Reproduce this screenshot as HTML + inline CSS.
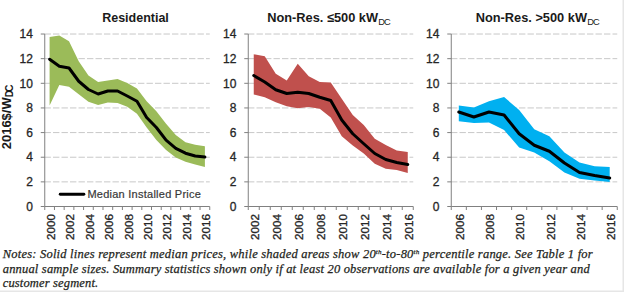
<!DOCTYPE html><html><head><meta charset="utf-8"><style>html,body{margin:0;padding:0;background:#fff;width:624px;height:292px;overflow:hidden}svg{display:block}.s{font-family:"Liberation Sans",sans-serif}.n{font-family:"Liberation Serif",serif;font-style:italic}</style></head><body>
<svg width="624" height="292" viewBox="0 0 624 292">
<rect x="0" y="0" width="624" height="292" fill="#fff"/>
<line x1="44.50" y1="181.86" x2="209.75" y2="181.86" stroke="#c8c8c8" stroke-width="1" stroke-dasharray="6.4 2.1"/>
<line x1="44.50" y1="157.22" x2="209.75" y2="157.22" stroke="#c8c8c8" stroke-width="1" stroke-dasharray="6.4 2.1"/>
<line x1="44.50" y1="132.58" x2="209.75" y2="132.58" stroke="#c8c8c8" stroke-width="1" stroke-dasharray="6.4 2.1"/>
<line x1="44.50" y1="107.94" x2="209.75" y2="107.94" stroke="#c8c8c8" stroke-width="1" stroke-dasharray="6.4 2.1"/>
<line x1="44.50" y1="83.30" x2="209.75" y2="83.30" stroke="#c8c8c8" stroke-width="1" stroke-dasharray="6.4 2.1"/>
<line x1="44.50" y1="58.66" x2="209.75" y2="58.66" stroke="#c8c8c8" stroke-width="1" stroke-dasharray="6.4 2.1"/>
<line x1="44.50" y1="34.02" x2="209.75" y2="34.02" stroke="#c8c8c8" stroke-width="1" stroke-dasharray="6.4 2.1"/>
<polygon fill="#9bbb59" points="49.60,37.00 59.31,35.50 69.01,41.25 78.72,61.25 88.43,75.50 98.13,82.00 107.84,80.50 117.54,79.00 127.25,83.00 136.96,88.50 146.66,101.25 156.37,111.25 166.07,123.75 175.78,135.00 185.49,142.25 195.19,144.75 204.90,146.25 204.90,167.00 195.19,164.50 185.49,161.75 175.78,157.50 166.07,150.00 156.37,140.00 146.66,127.50 136.96,113.75 127.25,106.75 117.54,103.00 107.84,102.50 98.13,105.00 88.43,101.75 78.72,94.25 69.01,86.75 59.31,85.00 49.60,105.50"/>
<polyline fill="none" stroke="#000" stroke-width="3.0" stroke-linejoin="round" stroke-linecap="round" points="49.60,59.25 59.31,66.25 69.01,68.00 78.72,81.25 88.43,89.50 98.13,94.00 107.84,91.00 117.54,91.00 127.25,96.00 136.96,101.25 146.66,117.50 156.37,127.50 166.07,140.20 175.78,148.30 185.49,153.20 195.19,156.00 204.90,157.00"/>
<line x1="44.75" y1="34.02" x2="44.75" y2="206.50" stroke="#808080" stroke-width="1"/>
<line x1="44.75" y1="206.50" x2="209.75" y2="206.50" stroke="#808080" stroke-width="1"/>
<line x1="40.75" y1="206.50" x2="44.75" y2="206.50" stroke="#808080" stroke-width="1"/>
<text class="s" x="32.95" y="210.70" font-size="12" text-anchor="end" fill="#262626" stroke="#262626" stroke-width="0.3">0</text>
<line x1="40.75" y1="181.86" x2="44.75" y2="181.86" stroke="#808080" stroke-width="1"/>
<text class="s" x="32.95" y="186.06" font-size="12" text-anchor="end" fill="#262626" stroke="#262626" stroke-width="0.3">2</text>
<line x1="40.75" y1="157.22" x2="44.75" y2="157.22" stroke="#808080" stroke-width="1"/>
<text class="s" x="32.95" y="161.42" font-size="12" text-anchor="end" fill="#262626" stroke="#262626" stroke-width="0.3">4</text>
<line x1="40.75" y1="132.58" x2="44.75" y2="132.58" stroke="#808080" stroke-width="1"/>
<text class="s" x="32.95" y="136.78" font-size="12" text-anchor="end" fill="#262626" stroke="#262626" stroke-width="0.3">6</text>
<line x1="40.75" y1="107.94" x2="44.75" y2="107.94" stroke="#808080" stroke-width="1"/>
<text class="s" x="32.95" y="112.14" font-size="12" text-anchor="end" fill="#262626" stroke="#262626" stroke-width="0.3">8</text>
<line x1="40.75" y1="83.30" x2="44.75" y2="83.30" stroke="#808080" stroke-width="1"/>
<text class="s" x="32.95" y="87.50" font-size="12" text-anchor="end" fill="#262626" stroke="#262626" stroke-width="0.3">10</text>
<line x1="40.75" y1="58.66" x2="44.75" y2="58.66" stroke="#808080" stroke-width="1"/>
<text class="s" x="32.95" y="62.86" font-size="12" text-anchor="end" fill="#262626" stroke="#262626" stroke-width="0.3">12</text>
<line x1="40.75" y1="34.02" x2="44.75" y2="34.02" stroke="#808080" stroke-width="1"/>
<text class="s" x="32.95" y="38.22" font-size="12" text-anchor="end" fill="#262626" stroke="#262626" stroke-width="0.3">14</text>
<line x1="44.75" y1="206.50" x2="44.75" y2="210.00" stroke="#808080" stroke-width="1"/>
<line x1="54.46" y1="206.50" x2="54.46" y2="210.00" stroke="#808080" stroke-width="1"/>
<line x1="64.16" y1="206.50" x2="64.16" y2="210.00" stroke="#808080" stroke-width="1"/>
<line x1="73.87" y1="206.50" x2="73.87" y2="210.00" stroke="#808080" stroke-width="1"/>
<line x1="83.57" y1="206.50" x2="83.57" y2="210.00" stroke="#808080" stroke-width="1"/>
<line x1="93.28" y1="206.50" x2="93.28" y2="210.00" stroke="#808080" stroke-width="1"/>
<line x1="102.99" y1="206.50" x2="102.99" y2="210.00" stroke="#808080" stroke-width="1"/>
<line x1="112.69" y1="206.50" x2="112.69" y2="210.00" stroke="#808080" stroke-width="1"/>
<line x1="122.40" y1="206.50" x2="122.40" y2="210.00" stroke="#808080" stroke-width="1"/>
<line x1="132.10" y1="206.50" x2="132.10" y2="210.00" stroke="#808080" stroke-width="1"/>
<line x1="141.81" y1="206.50" x2="141.81" y2="210.00" stroke="#808080" stroke-width="1"/>
<line x1="151.51" y1="206.50" x2="151.51" y2="210.00" stroke="#808080" stroke-width="1"/>
<line x1="161.22" y1="206.50" x2="161.22" y2="210.00" stroke="#808080" stroke-width="1"/>
<line x1="170.93" y1="206.50" x2="170.93" y2="210.00" stroke="#808080" stroke-width="1"/>
<line x1="180.63" y1="206.50" x2="180.63" y2="210.00" stroke="#808080" stroke-width="1"/>
<line x1="190.34" y1="206.50" x2="190.34" y2="210.00" stroke="#808080" stroke-width="1"/>
<line x1="200.04" y1="206.50" x2="200.04" y2="210.00" stroke="#808080" stroke-width="1"/>
<line x1="209.75" y1="206.50" x2="209.75" y2="210.00" stroke="#808080" stroke-width="1"/>
<text class="s" transform="translate(54.90,240.00) rotate(-90)" font-size="11.7" fill="#262626" stroke="#262626" stroke-width="0.3">2000</text>
<text class="s" transform="translate(74.31,240.00) rotate(-90)" font-size="11.7" fill="#262626" stroke="#262626" stroke-width="0.3">2002</text>
<text class="s" transform="translate(93.73,240.00) rotate(-90)" font-size="11.7" fill="#262626" stroke="#262626" stroke-width="0.3">2004</text>
<text class="s" transform="translate(113.14,240.00) rotate(-90)" font-size="11.7" fill="#262626" stroke="#262626" stroke-width="0.3">2006</text>
<text class="s" transform="translate(132.55,240.00) rotate(-90)" font-size="11.7" fill="#262626" stroke="#262626" stroke-width="0.3">2008</text>
<text class="s" transform="translate(151.96,240.00) rotate(-90)" font-size="11.7" fill="#262626" stroke="#262626" stroke-width="0.3">2010</text>
<text class="s" transform="translate(171.37,240.00) rotate(-90)" font-size="11.7" fill="#262626" stroke="#262626" stroke-width="0.3">2012</text>
<text class="s" transform="translate(190.79,240.00) rotate(-90)" font-size="11.7" fill="#262626" stroke="#262626" stroke-width="0.3">2014</text>
<text class="s" transform="translate(210.20,240.00) rotate(-90)" font-size="11.7" fill="#262626" stroke="#262626" stroke-width="0.3">2016</text>
<text class="s" x="135.50" y="21.9" font-size="12.5" font-weight="bold" text-anchor="middle" fill="#1a1a1a">Residential</text>
<line x1="248.00" y1="181.86" x2="413.25" y2="181.86" stroke="#c8c8c8" stroke-width="1" stroke-dasharray="6.4 2.1"/>
<line x1="248.00" y1="157.22" x2="413.25" y2="157.22" stroke="#c8c8c8" stroke-width="1" stroke-dasharray="6.4 2.1"/>
<line x1="248.00" y1="132.58" x2="413.25" y2="132.58" stroke="#c8c8c8" stroke-width="1" stroke-dasharray="6.4 2.1"/>
<line x1="248.00" y1="107.94" x2="413.25" y2="107.94" stroke="#c8c8c8" stroke-width="1" stroke-dasharray="6.4 2.1"/>
<line x1="248.00" y1="83.30" x2="413.25" y2="83.30" stroke="#c8c8c8" stroke-width="1" stroke-dasharray="6.4 2.1"/>
<line x1="248.00" y1="58.66" x2="413.25" y2="58.66" stroke="#c8c8c8" stroke-width="1" stroke-dasharray="6.4 2.1"/>
<line x1="248.00" y1="34.02" x2="413.25" y2="34.02" stroke="#c8c8c8" stroke-width="1" stroke-dasharray="6.4 2.1"/>
<polygon fill="#c0504d" points="253.75,54.25 264.75,56.25 275.75,73.75 286.75,80.50 297.75,63.75 308.75,76.25 319.75,82.00 330.75,82.50 341.75,98.75 352.75,115.00 363.75,125.00 374.75,138.75 385.75,145.00 396.75,150.50 407.75,152.00 407.75,173.00 396.75,170.00 385.75,168.75 374.75,163.75 363.75,153.50 352.75,145.50 341.75,136.25 330.75,117.50 319.75,108.75 308.75,107.00 297.75,108.25 286.75,106.25 275.75,102.25 264.75,97.25 253.75,94.50"/>
<polyline fill="none" stroke="#000" stroke-width="3.0" stroke-linejoin="round" stroke-linecap="round" points="253.75,75.50 264.75,82.00 275.75,89.75 286.75,93.50 297.75,92.25 308.75,93.50 319.75,97.25 330.75,100.50 341.75,120.00 352.75,133.75 363.75,143.75 374.75,153.50 385.75,159.50 396.75,162.50 407.75,164.50"/>
<line x1="248.25" y1="34.02" x2="248.25" y2="206.50" stroke="#808080" stroke-width="1"/>
<line x1="248.25" y1="206.50" x2="413.25" y2="206.50" stroke="#808080" stroke-width="1"/>
<line x1="244.25" y1="206.50" x2="248.25" y2="206.50" stroke="#808080" stroke-width="1"/>
<text class="s" x="236.45" y="210.70" font-size="12" text-anchor="end" fill="#262626" stroke="#262626" stroke-width="0.3">0</text>
<line x1="244.25" y1="181.86" x2="248.25" y2="181.86" stroke="#808080" stroke-width="1"/>
<text class="s" x="236.45" y="186.06" font-size="12" text-anchor="end" fill="#262626" stroke="#262626" stroke-width="0.3">2</text>
<line x1="244.25" y1="157.22" x2="248.25" y2="157.22" stroke="#808080" stroke-width="1"/>
<text class="s" x="236.45" y="161.42" font-size="12" text-anchor="end" fill="#262626" stroke="#262626" stroke-width="0.3">4</text>
<line x1="244.25" y1="132.58" x2="248.25" y2="132.58" stroke="#808080" stroke-width="1"/>
<text class="s" x="236.45" y="136.78" font-size="12" text-anchor="end" fill="#262626" stroke="#262626" stroke-width="0.3">6</text>
<line x1="244.25" y1="107.94" x2="248.25" y2="107.94" stroke="#808080" stroke-width="1"/>
<text class="s" x="236.45" y="112.14" font-size="12" text-anchor="end" fill="#262626" stroke="#262626" stroke-width="0.3">8</text>
<line x1="244.25" y1="83.30" x2="248.25" y2="83.30" stroke="#808080" stroke-width="1"/>
<text class="s" x="236.45" y="87.50" font-size="12" text-anchor="end" fill="#262626" stroke="#262626" stroke-width="0.3">10</text>
<line x1="244.25" y1="58.66" x2="248.25" y2="58.66" stroke="#808080" stroke-width="1"/>
<text class="s" x="236.45" y="62.86" font-size="12" text-anchor="end" fill="#262626" stroke="#262626" stroke-width="0.3">12</text>
<line x1="244.25" y1="34.02" x2="248.25" y2="34.02" stroke="#808080" stroke-width="1"/>
<text class="s" x="236.45" y="38.22" font-size="12" text-anchor="end" fill="#262626" stroke="#262626" stroke-width="0.3">14</text>
<line x1="248.25" y1="206.50" x2="248.25" y2="210.00" stroke="#808080" stroke-width="1"/>
<line x1="259.25" y1="206.50" x2="259.25" y2="210.00" stroke="#808080" stroke-width="1"/>
<line x1="270.25" y1="206.50" x2="270.25" y2="210.00" stroke="#808080" stroke-width="1"/>
<line x1="281.25" y1="206.50" x2="281.25" y2="210.00" stroke="#808080" stroke-width="1"/>
<line x1="292.25" y1="206.50" x2="292.25" y2="210.00" stroke="#808080" stroke-width="1"/>
<line x1="303.25" y1="206.50" x2="303.25" y2="210.00" stroke="#808080" stroke-width="1"/>
<line x1="314.25" y1="206.50" x2="314.25" y2="210.00" stroke="#808080" stroke-width="1"/>
<line x1="325.25" y1="206.50" x2="325.25" y2="210.00" stroke="#808080" stroke-width="1"/>
<line x1="336.25" y1="206.50" x2="336.25" y2="210.00" stroke="#808080" stroke-width="1"/>
<line x1="347.25" y1="206.50" x2="347.25" y2="210.00" stroke="#808080" stroke-width="1"/>
<line x1="358.25" y1="206.50" x2="358.25" y2="210.00" stroke="#808080" stroke-width="1"/>
<line x1="369.25" y1="206.50" x2="369.25" y2="210.00" stroke="#808080" stroke-width="1"/>
<line x1="380.25" y1="206.50" x2="380.25" y2="210.00" stroke="#808080" stroke-width="1"/>
<line x1="391.25" y1="206.50" x2="391.25" y2="210.00" stroke="#808080" stroke-width="1"/>
<line x1="402.25" y1="206.50" x2="402.25" y2="210.00" stroke="#808080" stroke-width="1"/>
<line x1="413.25" y1="206.50" x2="413.25" y2="210.00" stroke="#808080" stroke-width="1"/>
<text class="s" transform="translate(259.05,240.00) rotate(-90)" font-size="11.7" fill="#262626" stroke="#262626" stroke-width="0.3">2002</text>
<text class="s" transform="translate(281.05,240.00) rotate(-90)" font-size="11.7" fill="#262626" stroke="#262626" stroke-width="0.3">2004</text>
<text class="s" transform="translate(303.05,240.00) rotate(-90)" font-size="11.7" fill="#262626" stroke="#262626" stroke-width="0.3">2006</text>
<text class="s" transform="translate(325.05,240.00) rotate(-90)" font-size="11.7" fill="#262626" stroke="#262626" stroke-width="0.3">2008</text>
<text class="s" transform="translate(347.05,240.00) rotate(-90)" font-size="11.7" fill="#262626" stroke="#262626" stroke-width="0.3">2010</text>
<text class="s" transform="translate(369.05,240.00) rotate(-90)" font-size="11.7" fill="#262626" stroke="#262626" stroke-width="0.3">2012</text>
<text class="s" transform="translate(391.05,240.00) rotate(-90)" font-size="11.7" fill="#262626" stroke="#262626" stroke-width="0.3">2014</text>
<text class="s" transform="translate(413.05,240.00) rotate(-90)" font-size="11.7" fill="#262626" stroke="#262626" stroke-width="0.3">2016</text>
<text class="s" x="328.50" y="21.9" font-size="12.8" font-weight="bold" text-anchor="middle" fill="#1a1a1a">Non-Res. ≤500 kW<tspan font-size="9.3" font-weight="normal" letter-spacing="-1.0" dx="0.3" dy="2.6">DC</tspan></text>
<line x1="451.00" y1="181.86" x2="617.25" y2="181.86" stroke="#c8c8c8" stroke-width="1" stroke-dasharray="6.4 2.1"/>
<line x1="451.00" y1="157.22" x2="617.25" y2="157.22" stroke="#c8c8c8" stroke-width="1" stroke-dasharray="6.4 2.1"/>
<line x1="451.00" y1="132.58" x2="617.25" y2="132.58" stroke="#c8c8c8" stroke-width="1" stroke-dasharray="6.4 2.1"/>
<line x1="451.00" y1="107.94" x2="617.25" y2="107.94" stroke="#c8c8c8" stroke-width="1" stroke-dasharray="6.4 2.1"/>
<line x1="451.00" y1="83.30" x2="617.25" y2="83.30" stroke="#c8c8c8" stroke-width="1" stroke-dasharray="6.4 2.1"/>
<line x1="451.00" y1="58.66" x2="617.25" y2="58.66" stroke="#c8c8c8" stroke-width="1" stroke-dasharray="6.4 2.1"/>
<line x1="451.00" y1="34.02" x2="617.25" y2="34.02" stroke="#c8c8c8" stroke-width="1" stroke-dasharray="6.4 2.1"/>
<polygon fill="#00b0f0" points="458.80,105.50 473.89,107.50 488.98,101.25 504.07,97.00 519.16,110.00 534.25,129.25 549.34,136.25 564.43,152.50 579.52,162.50 594.61,166.25 609.70,167.00 609.70,182.00 594.61,180.50 579.52,178.75 564.43,172.50 549.34,161.25 534.25,152.50 519.16,147.50 504.07,130.00 488.98,122.50 473.89,123.00 458.80,121.25"/>
<polyline fill="none" stroke="#000" stroke-width="3.0" stroke-linejoin="round" stroke-linecap="round" points="458.80,112.00 473.89,117.00 488.98,112.00 504.07,115.00 519.16,133.75 534.25,145.25 549.34,151.25 564.43,163.00 579.52,172.50 594.61,175.50 609.70,178.00"/>
<line x1="451.25" y1="34.02" x2="451.25" y2="206.50" stroke="#808080" stroke-width="1"/>
<line x1="451.25" y1="206.50" x2="617.25" y2="206.50" stroke="#808080" stroke-width="1"/>
<line x1="447.25" y1="206.50" x2="451.25" y2="206.50" stroke="#808080" stroke-width="1"/>
<text class="s" x="439.45" y="210.70" font-size="12" text-anchor="end" fill="#262626" stroke="#262626" stroke-width="0.3">0</text>
<line x1="447.25" y1="181.86" x2="451.25" y2="181.86" stroke="#808080" stroke-width="1"/>
<text class="s" x="439.45" y="186.06" font-size="12" text-anchor="end" fill="#262626" stroke="#262626" stroke-width="0.3">2</text>
<line x1="447.25" y1="157.22" x2="451.25" y2="157.22" stroke="#808080" stroke-width="1"/>
<text class="s" x="439.45" y="161.42" font-size="12" text-anchor="end" fill="#262626" stroke="#262626" stroke-width="0.3">4</text>
<line x1="447.25" y1="132.58" x2="451.25" y2="132.58" stroke="#808080" stroke-width="1"/>
<text class="s" x="439.45" y="136.78" font-size="12" text-anchor="end" fill="#262626" stroke="#262626" stroke-width="0.3">6</text>
<line x1="447.25" y1="107.94" x2="451.25" y2="107.94" stroke="#808080" stroke-width="1"/>
<text class="s" x="439.45" y="112.14" font-size="12" text-anchor="end" fill="#262626" stroke="#262626" stroke-width="0.3">8</text>
<line x1="447.25" y1="83.30" x2="451.25" y2="83.30" stroke="#808080" stroke-width="1"/>
<text class="s" x="439.45" y="87.50" font-size="12" text-anchor="end" fill="#262626" stroke="#262626" stroke-width="0.3">10</text>
<line x1="447.25" y1="58.66" x2="451.25" y2="58.66" stroke="#808080" stroke-width="1"/>
<text class="s" x="439.45" y="62.86" font-size="12" text-anchor="end" fill="#262626" stroke="#262626" stroke-width="0.3">12</text>
<line x1="447.25" y1="34.02" x2="451.25" y2="34.02" stroke="#808080" stroke-width="1"/>
<text class="s" x="439.45" y="38.22" font-size="12" text-anchor="end" fill="#262626" stroke="#262626" stroke-width="0.3">14</text>
<line x1="451.25" y1="206.50" x2="451.25" y2="210.00" stroke="#808080" stroke-width="1"/>
<line x1="466.34" y1="206.50" x2="466.34" y2="210.00" stroke="#808080" stroke-width="1"/>
<line x1="481.43" y1="206.50" x2="481.43" y2="210.00" stroke="#808080" stroke-width="1"/>
<line x1="496.52" y1="206.50" x2="496.52" y2="210.00" stroke="#808080" stroke-width="1"/>
<line x1="511.61" y1="206.50" x2="511.61" y2="210.00" stroke="#808080" stroke-width="1"/>
<line x1="526.70" y1="206.50" x2="526.70" y2="210.00" stroke="#808080" stroke-width="1"/>
<line x1="541.80" y1="206.50" x2="541.80" y2="210.00" stroke="#808080" stroke-width="1"/>
<line x1="556.89" y1="206.50" x2="556.89" y2="210.00" stroke="#808080" stroke-width="1"/>
<line x1="571.98" y1="206.50" x2="571.98" y2="210.00" stroke="#808080" stroke-width="1"/>
<line x1="587.07" y1="206.50" x2="587.07" y2="210.00" stroke="#808080" stroke-width="1"/>
<line x1="602.16" y1="206.50" x2="602.16" y2="210.00" stroke="#808080" stroke-width="1"/>
<line x1="617.25" y1="206.50" x2="617.25" y2="210.00" stroke="#808080" stroke-width="1"/>
<text class="s" transform="translate(464.10,240.00) rotate(-90)" font-size="11.7" fill="#262626" stroke="#262626" stroke-width="0.3">2006</text>
<text class="s" transform="translate(494.28,240.00) rotate(-90)" font-size="11.7" fill="#262626" stroke="#262626" stroke-width="0.3">2008</text>
<text class="s" transform="translate(524.46,240.00) rotate(-90)" font-size="11.7" fill="#262626" stroke="#262626" stroke-width="0.3">2010</text>
<text class="s" transform="translate(554.64,240.00) rotate(-90)" font-size="11.7" fill="#262626" stroke="#262626" stroke-width="0.3">2012</text>
<text class="s" transform="translate(584.82,240.00) rotate(-90)" font-size="11.7" fill="#262626" stroke="#262626" stroke-width="0.3">2014</text>
<text class="s" transform="translate(615.00,240.00) rotate(-90)" font-size="11.7" fill="#262626" stroke="#262626" stroke-width="0.3">2016</text>
<text class="s" x="537.20" y="21.9" font-size="12.8" font-weight="bold" text-anchor="middle" fill="#1a1a1a">Non-Res. >500 kW<tspan font-size="9.3" font-weight="normal" letter-spacing="-1.0" dx="0.3" dy="2.6">DC</tspan></text>
<text class="s" transform="translate(10.8,149.3) rotate(-90)" font-size="13" font-weight="bold" fill="#1a1a1a">2016$/W<tspan font-size="10" letter-spacing="-1.7" dy="2.5">DC</tspan></text>
<line x1="60.2" y1="194.25" x2="83.9" y2="194.25" stroke="#000" stroke-width="2.8" stroke-linecap="round"/>
<text class="s" x="87.4" y="197.8" font-size="11" fill="#383838" stroke="#383838" stroke-width="0.2" textLength="113.5" lengthAdjust="spacing">Median Installed Price</text>
<text x="2.7" y="258.3" class="n" font-size="12.5" fill="#231f20" stroke="#231f20" stroke-width="0.25" textLength="590" lengthAdjust="spacing">Notes: Solid lines represent median prices, while shaded areas show 20<tspan font-size="7" dy="-4">th</tspan><tspan dy="4">-to-80</tspan><tspan font-size="7" dy="-4">th</tspan><tspan dy="4"> percentile range. See Table 1 for</tspan></text>
<text x="2.7" y="272.9" class="n" font-size="12.5" fill="#231f20" stroke="#231f20" stroke-width="0.25" textLength="587" lengthAdjust="spacing">annual sample sizes. Summary statistics shown only if at least 20 observations are available for a given year and</text>
<text x="2.7" y="287.2" class="n" font-size="12.5" fill="#231f20" stroke="#231f20" stroke-width="0.25" textLength="95.5" lengthAdjust="spacing">customer segment.</text>
<rect x="622.5" y="0" width="1.5" height="292" fill="#e6e6e6"/>
<rect x="0" y="290.5" width="624" height="1.5" fill="#e6e6e6"/>
</svg></body></html>
